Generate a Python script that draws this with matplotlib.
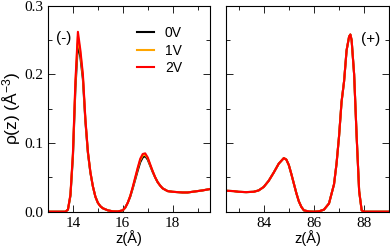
import matplotlib
matplotlib.use("Agg")
import matplotlib.pyplot as plt
from matplotlib.ticker import MultipleLocator

# electrode density profiles, (-) side and (+) side
z_neg = [13.0, 13.5, 13.7, 13.8, 13.9, 14.0, 14.1, 14.2, 14.3, 14.4, 14.5, 14.6,
         14.7, 14.8, 14.9, 15.0, 15.1, 15.2, 15.4, 15.6, 15.8, 16.0, 16.1, 16.2,
         16.3, 16.4, 16.5, 16.6, 16.7, 16.8, 16.9, 17.0, 17.1, 17.2, 17.3, 17.4,
         17.5, 17.6, 17.7, 17.8, 18.0, 18.2, 18.4, 18.6, 18.8, 19.0, 19.2, 19.5]
rho_neg_2V = [0, 0, 0, 0.003, 0.025, 0.085, 0.19, 0.262, 0.235, 0.2, 0.135, 0.088,
              0.058, 0.037, 0.022, 0.013, 0.008, 0.005, 0.002, 0.0005, 0.0003, 0.002, 0.006, 0.013,
              0.023, 0.036, 0.05, 0.064, 0.077, 0.084, 0.085, 0.079, 0.069, 0.059, 0.05, 0.043,
              0.038, 0.034, 0.032, 0.030, 0.029, 0.0285, 0.028, 0.028, 0.029, 0.030, 0.031, 0.033]
rho_neg_1V = [0, 0, 0, 0.003, 0.024, 0.083, 0.186, 0.255, 0.231, 0.197, 0.134, 0.087,
              0.058, 0.037, 0.022, 0.013, 0.008, 0.005, 0.002, 0.0005, 0.0003, 0.002, 0.006, 0.013,
              0.023, 0.035, 0.049, 0.063, 0.075, 0.082, 0.083, 0.078, 0.068, 0.059, 0.05, 0.043,
              0.038, 0.034, 0.032, 0.030, 0.029, 0.0285, 0.028, 0.028, 0.029, 0.030, 0.031, 0.033]
rho_neg_0V = [0, 0, 0, 0.003, 0.023, 0.08, 0.18, 0.245, 0.225, 0.193, 0.132, 0.086,
              0.057, 0.037, 0.022, 0.013, 0.008, 0.005, 0.002, 0.0005, 0.0003, 0.002, 0.006, 0.013,
              0.022, 0.034, 0.047, 0.06, 0.072, 0.079, 0.081, 0.076, 0.067, 0.058, 0.05, 0.043,
              0.038, 0.034, 0.032, 0.030, 0.029, 0.0285, 0.028, 0.028, 0.029, 0.030, 0.031, 0.033]

z_pos = [82.5, 82.8, 83.0, 83.3, 83.6, 83.8, 84.0, 84.2, 84.4, 84.6, 84.8, 84.9,
         85.0, 85.1, 85.2, 85.3, 85.4, 85.5, 85.6, 85.8, 86.0, 86.2, 86.4, 86.6,
         86.8, 86.9, 87.0, 87.1, 87.2, 87.3, 87.4, 87.45, 87.5, 87.6, 87.7, 87.8,
         87.9, 88.0, 88.5, 89.0]
rho_pos_2V = [0.0305, 0.030, 0.029, 0.0285, 0.029, 0.031, 0.036, 0.045, 0.057, 0.07, 0.078, 0.076,
              0.068, 0.055, 0.041, 0.027, 0.015, 0.007, 0.002, 0.0003, 0, 0.0005, 0.003, 0.012,
              0.04, 0.07, 0.11, 0.16, 0.19, 0.235, 0.255, 0.258, 0.25, 0.2, 0.11, 0.03,
              0.002, 0, 0, 0]
rho_pos_1V = rho_pos_2V
rho_pos_0V = rho_pos_2V

labels = ["0V", "1V", "2V"]
colors = ["black", "orange", "red"]

plt.rcParams['font.family'] = ['Liberation Sans', 'DejaVu Sans']
plt.rcParams['mathtext.default'] = 'regular'

fig = plt.figure(figsize=(3.9, 2.49), dpi=100)
ax1 = fig.add_axes([48/390, 1-211.7/249, 162/390, 206/249])
ax2 = fig.add_axes([226/390, 1-211.7/249, 163.3/390, 206/249])

for rho, lab, c in zip([rho_neg_0V, rho_neg_1V, rho_neg_2V], labels, colors):
    ax1.plot(z_neg, rho, color=c, lw=1.5, label=lab)
for rho, c in zip([rho_pos_0V, rho_pos_1V, rho_pos_2V], colors):
    ax2.plot(z_pos, rho, color=c, lw=1.5)

ax1.set_xlim(13, 19.5)
ax2.set_xlim(82.5, 89)
for ax in (ax1, ax2):
    ax.set_ylim(0, 0.3)
    ax.xaxis.set_major_locator(MultipleLocator(2))
    ax.xaxis.set_minor_locator(MultipleLocator(1))
    ax.yaxis.set_major_locator(MultipleLocator(0.1))
    ax.yaxis.set_minor_locator(MultipleLocator(0.05))
    ax.tick_params(which='both', direction='in', top=True, right=True, width=0.6)
    ax.tick_params(which='major', length=5)
    ax.tick_params(which='minor', length=3)
    for lbl in ax.get_xticklabels() + ax.get_yticklabels():
        lbl.set_family('Liberation Serif')
        lbl.set_fontsize(11)
    for s in ax.spines.values():
        s.set_linewidth(0.8)
    ax.set_xlabel("z(Å)", fontsize=10.5, labelpad=0)

ax1.set_ylabel(r"ρ(z) (Å$^{-3}$)", fontsize=12.5, labelpad=1)
ax2.set_yticklabels([])

ax1.text(0.097, 0.845, "(-)", transform=ax1.transAxes, ha='center', va='center', fontsize=11)
ax2.text(0.886, 0.837, "(+)", transform=ax2.transAxes, ha='center', va='center', fontsize=11)

ax1.legend(loc='upper left', bbox_to_anchor=(0.55, 0.9), frameon=False,
           fontsize=10, borderpad=0, borderaxespad=0, handlelength=1.2,
           handletextpad=0.8, labelspacing=0.25)

fig.savefig("out.png", dpi=100)
